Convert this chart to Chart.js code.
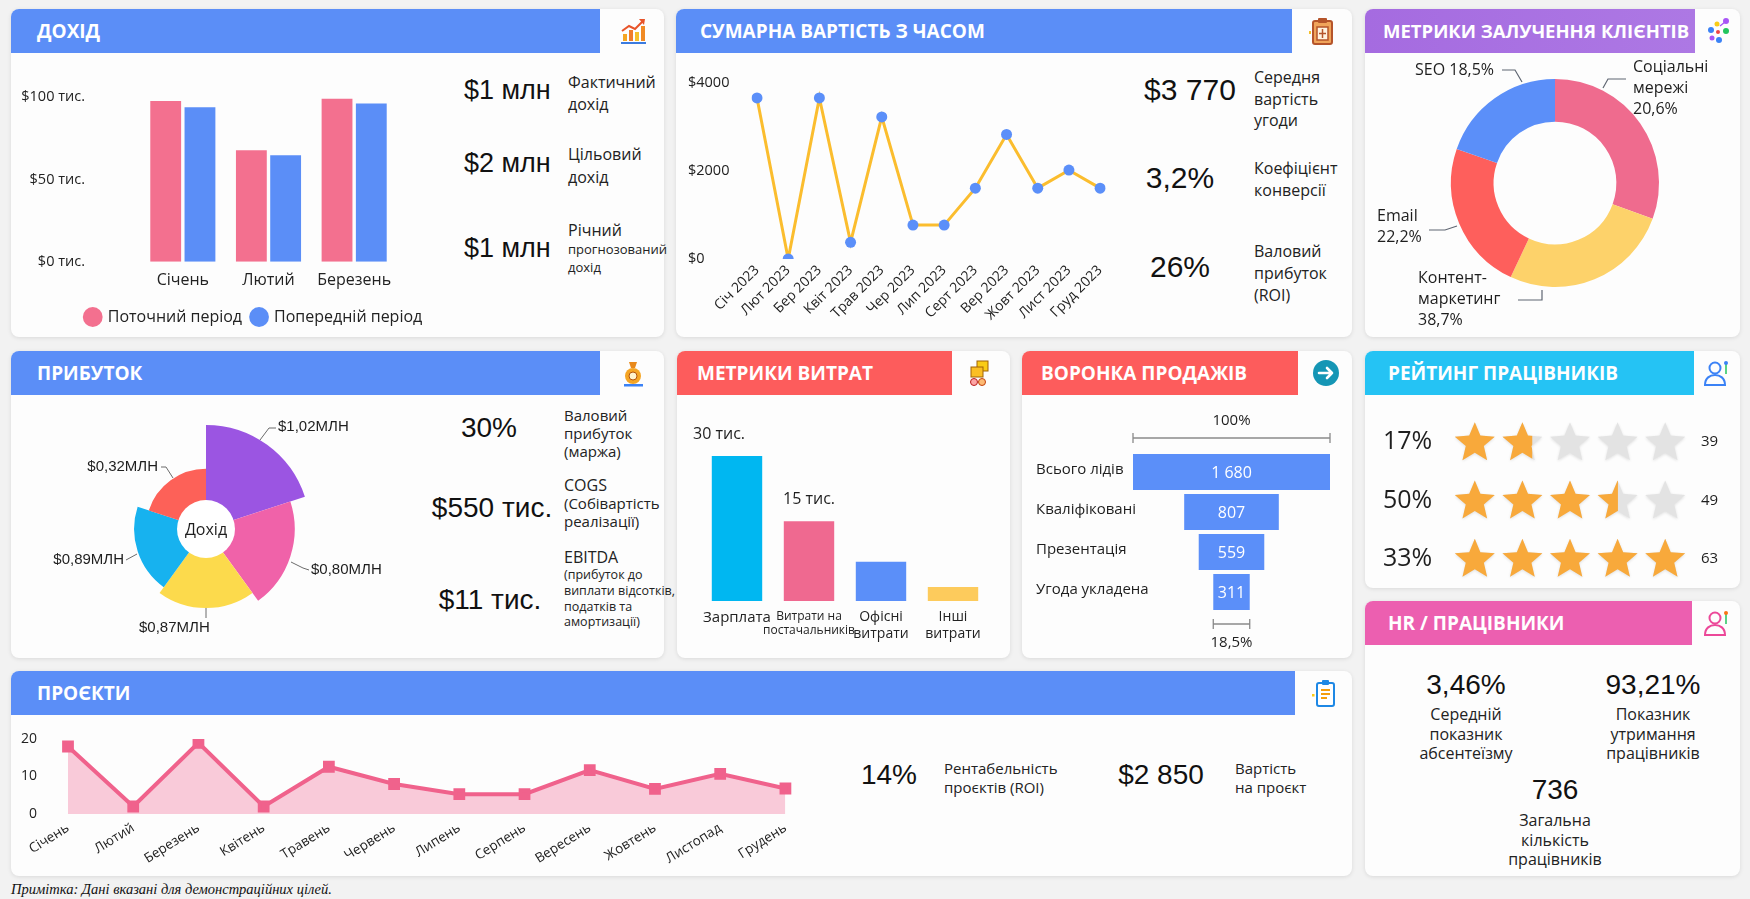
<!DOCTYPE html>
<html lang="uk">
<head>
<meta charset="utf-8">
<script src="https://cdn.jsdelivr.net/npm/chart.js@4.4.1/dist/chart.umd.min.js"></script>
<style>
html,body{margin:0;padding:0;}
body{width:1750px;height:899px;background:#f2f2f2;position:relative;overflow:hidden;font-family:'Open Sans','Noto Sans',sans-serif;color:#1e1e1e;}
.panel{position:absolute;background:#fdfdfd;border-radius:8px;box-shadow:0 1px 4px rgba(0,0,0,0.10);overflow:hidden;}
.hdr{position:absolute;left:0;top:0;height:44px;color:#fff;font-weight:700;font-size:19px;line-height:44px;box-sizing:border-box;white-space:nowrap;}
.icon{position:absolute;top:7px;width:30px;height:30px;}
.abs{position:absolute;white-space:nowrap;}
.big{font-family:'Liberation Sans',Arial,sans-serif;font-size:28px;line-height:32px;color:#111;}
.lbl{font-size:15px;line-height:20px;color:#222;}
.cw{position:absolute;}
.note{position:absolute;left:11px;top:881px;font-family:'Liberation Serif','Times New Roman',serif;font-style:italic;font-size:14.5px;color:#111;}
</style>
</head>
<body>

<!-- Panels -->
<div class="panel" style="left:11px;top:9px;width:653px;height:328px;">
  <div class="hdr" style="width:589px;background:#5b8ef7;padding-left:26px;">ДОХІД</div>
  <svg class="icon" style="left:607px" viewBox="0 0 30 30"><rect x="5" y="18" width="4" height="7" fill="#f5a623"/><rect x="11" y="14" width="4" height="11" fill="#f07c2a"/><rect x="17" y="16" width="4" height="9" fill="#f5c02a"/><rect x="23" y="10" width="4" height="15" fill="#f08a24"/><path d="M4 15 L11 10 L17 13 L25 5" stroke="#e8542a" stroke-width="2" fill="none"/><path d="M21 3 L27 3 L26 9 Z" fill="#e8542a"/><rect x="3" y="26" width="25" height="2" fill="#3b7be0"/></svg>
</div>
<div class="panel" style="left:676px;top:9px;width:676px;height:328px;">
  <div class="hdr" style="width:616px;background:#5b8ef7;padding-left:24px;">СУМАРНА ВАРТІСТЬ З ЧАСОМ</div>
  <svg class="icon" style="left:631px" viewBox="0 0 30 30"><rect x="6" y="5" width="19" height="23" rx="2" fill="#f0a45a" stroke="#b5542a" stroke-width="2"/><rect x="11" y="2" width="9" height="5" rx="1" fill="#b5542a"/><rect x="10" y="11" width="11" height="13" fill="#fff3e0" stroke="#b5542a" stroke-width="1.5"/><path d="M15.5 13v9M12 17.5h7" stroke="#b5542a" stroke-width="1.5"/><rect x="2" y="15" width="2" height="3" fill="#f5c02a"/></svg>
</div>
<div class="panel" style="left:1365px;top:9px;width:375px;height:328px;">
  <div class="hdr" style="width:330px;background:linear-gradient(90deg,#a56be0,#ad78e4);padding-left:18px;font-size:18.5px;">МЕТРИКИ ЗАЛУЧЕННЯ КЛІЄНТІВ</div>
  <svg class="icon" style="left:338px" viewBox="0 0 30 30"><circle cx="8" cy="14" r="3" fill="#3b82f6"/><circle cx="14" cy="8" r="2.5" fill="#facc15"/><circle cx="23" cy="5" r="3" fill="#a855f7"/><circle cx="23" cy="15" r="3" fill="#22c55e"/><circle cx="9" cy="22" r="2.5" fill="#a855f7"/><circle cx="16" cy="24" r="3" fill="#3b82f6"/><circle cx="15" cy="16" r="2" fill="#ef4444"/><path d="M17 10 L22 6" stroke="#a855f7" stroke-width="1.5"/></svg>
</div>
<div class="panel" style="left:11px;top:351px;width:653px;height:307px;">
  <div class="hdr" style="width:589px;background:#5b8ef7;padding-left:26px;">ПРИБУТОК</div>
  <svg class="icon" style="left:607px" viewBox="0 0 30 30"><path d="M11 4 h8 l-2 6 h-4z" fill="#e8891c"/><circle cx="15" cy="18" r="8" fill="#f5a524"/><circle cx="15" cy="18" r="4" fill="#fff2cc" stroke="#b45309"/><rect x="6" y="26" width="19" height="2.5" fill="#3b82f6"/></svg>
</div>
<div class="panel" style="left:677px;top:351px;width:333px;height:307px;">
  <div class="hdr" style="width:275px;background:#fd5c5c;padding-left:20px;">МЕТРИКИ ВИТРАТ</div>
  <svg class="icon" style="left:287px" viewBox="0 0 30 30"><rect x="13" y="3" width="11" height="10" fill="#facc15" stroke="#a16207"/><rect x="7" y="9" width="12" height="10" fill="#fbbf24" stroke="#a16207"/><circle cx="10" cy="24" r="3.5" fill="#fca5a5" stroke="#b91c1c"/><circle cx="18" cy="24" r="3.5" fill="#fdba74" stroke="#c2410c"/></svg>
</div>
<div class="panel" style="left:1022px;top:351px;width:330px;height:307px;">
  <div class="hdr" style="width:276px;background:#fd5c5c;padding-left:19px;">ВОРОНКА ПРОДАЖІВ</div>
  <svg class="icon" style="left:289px" viewBox="0 0 30 30"><circle cx="15" cy="15" r="13" fill="#1596b5"/><path d="M8 15h13M16 10l5 5-5 5" stroke="#fff" stroke-width="2.6" fill="none" stroke-linecap="round" stroke-linejoin="round"/></svg>
</div>
<div class="panel" style="left:1365px;top:351px;width:375px;height:237px;">
  <div class="hdr" style="width:329px;background:#25c3f4;padding-left:23px;">РЕЙТИНГ ПРАЦІВНИКІВ</div>
  <svg class="icon" style="left:337px" viewBox="0 0 30 30"><circle cx="13" cy="10" r="5.5" fill="none" stroke="#3b82f6" stroke-width="2"/><path d="M3 27 c0-7 5-10 10-10 s10 3 10 10 z" fill="none" stroke="#3b82f6" stroke-width="2"/><path d="M24 6 v10" stroke="#22c55e" stroke-width="1.5"/><circle cx="24" cy="5" r="2" fill="#3b82f6"/></svg>
</div>
<div class="panel" style="left:1365px;top:601px;width:375px;height:275px;">
  <div class="hdr" style="width:327px;background:#ec5fb0;padding-left:23px;">HR / ПРАЦІВНИКИ</div>
  <svg class="icon" style="left:337px" viewBox="0 0 30 30"><circle cx="13" cy="10" r="5.5" fill="none" stroke="#ec4899" stroke-width="2"/><path d="M3 27 c0-7 5-10 10-10 s10 3 10 10 z" fill="none" stroke="#ec4899" stroke-width="2"/><path d="M24 6 v10" stroke="#22c55e" stroke-width="1.5"/><circle cx="24" cy="5" r="2" fill="#f97316"/></svg>
</div>
<div class="panel" style="left:11px;top:671px;width:1341px;height:205px;">
  <div class="hdr" style="width:1284px;background:#5b8ef7;padding-left:26px;">ПРОЄКТИ</div>
  <svg class="icon" style="left:1298px" viewBox="0 0 30 30"><rect x="8" y="5" width="17" height="23" rx="2" fill="#fff" stroke="#1e88e5" stroke-width="2"/><rect x="13" y="2" width="7" height="5" rx="1" fill="#1e88e5"/><path d="M12 12h9M12 16h9M12 20h6" stroke="#f59e0b" stroke-width="2"/><rect x="3" y="16" width="2.5" height="2.5" fill="#facc15"/></svg>
</div>

<!-- KPI texts -->
<div class="abs big" style="left:464px;top:74px;font-size:27px;">$1 млн</div>
<div class="abs lbl" style="left:568px;top:71px;font-size:16px;line-height:22px;">Фактичний<br>дохід</div>
<div class="abs big" style="left:464px;top:147px;font-size:27px;">$2 млн</div>
<div class="abs lbl" style="left:568px;top:143px;font-size:16px;line-height:23px;">Цільовий<br>дохід</div>
<div class="abs big" style="left:464px;top:232px;font-size:27px;">$1 млн</div>
<div class="abs lbl" style="left:568px;top:220px;font-size:16px;line-height:20px;">Річний</div>
<div class="abs lbl" style="left:568px;top:240px;font-size:13px;line-height:18px;">прогнозований<br>дохід</div>

<div class="abs big" style="left:1120px;top:74px;width:140px;text-align:center;font-size:30px;">$3 770</div>
<div class="abs big" style="left:1120px;top:162px;width:120px;text-align:center;font-size:30px;">3,2%</div>
<div class="abs big" style="left:1120px;top:251px;width:120px;text-align:center;font-size:30px;">26%</div>
<div class="abs lbl" style="left:1254px;top:67px;font-size:16px;line-height:21.5px;">Середня<br>вартість<br>угоди</div>
<div class="abs lbl" style="left:1254px;top:157px;font-size:16px;line-height:22px;">Коефіцієнт<br>конверсії</div>
<div class="abs lbl" style="left:1254px;top:240px;font-size:16px;line-height:22px;">Валовий<br>прибуток<br>(ROI)</div>

<div class="abs big" style="left:419px;top:412px;width:140px;text-align:center;">30%</div>
<div class="abs big" style="left:412px;top:492px;width:160px;text-align:center;">$550 тис.</div>
<div class="abs big" style="left:410px;top:584px;width:160px;text-align:center;">$11 тис.</div>
<div class="abs lbl" style="left:564px;top:406px;line-height:18px;">Валовий<br>прибуток<br>(маржа)</div>
<div class="abs lbl" style="left:564px;top:476px;line-height:18px;"><span style="font-size:16px">COGS</span><br>(Собівартість<br>реалізації)</div>
<div class="abs lbl" style="left:564px;top:547px;font-size:16px;line-height:20px;">EBITDA</div>
<div class="abs lbl" style="left:564px;top:567px;font-size:12.5px;line-height:15.8px;">(прибуток до<br>виплати відсотків,<br>податків та<br>амортизації)</div>

<div class="abs big" style="left:1406px;top:669px;width:120px;text-align:center;">3,46%</div>
<div class="abs lbl" style="left:1396px;top:705px;width:140px;text-align:center;font-size:16px;line-height:19.5px;">Середній<br>показник<br>абсентеїзму</div>
<div class="abs big" style="left:1593px;top:669px;width:120px;text-align:center;">93,21%</div>
<div class="abs lbl" style="left:1583px;top:705px;width:140px;text-align:center;font-size:16px;line-height:19.5px;">Показник<br>утримання<br>працівників</div>
<div class="abs big" style="left:1495px;top:774px;width:120px;text-align:center;">736</div>
<div class="abs lbl" style="left:1485px;top:811px;width:140px;text-align:center;font-size:16px;line-height:19.5px;">Загальна<br>кількість<br>працівників</div>

<div class="abs big" style="left:839px;top:759px;width:100px;text-align:center;">14%</div>
<div class="abs lbl" style="left:944px;top:759px;line-height:19px;">Рентабельність<br>проєктів (ROI)</div>
<div class="abs big" style="left:1101px;top:759px;width:120px;text-align:center;">$2 850</div>
<div class="abs lbl" style="left:1235px;top:759px;line-height:19px;">Вартість<br>на проєкт</div>

<div class="note">Примітка: Дані вказані для демонстраційних цілей.</div>

<!-- Chart containers -->
<div class="cw" style="left:15px;top:87px;width:470px;height:248px;"><canvas id="cRevenue"></canvas></div>
<div class="cw" style="left:688px;top:73px;width:427px;height:255px;"><canvas id="cValue"></canvas></div>
<div class="cw" style="left:1365px;top:55px;width:375px;height:282px;"><canvas id="cEngage"></canvas></div>
<div class="cw" style="left:30px;top:400px;width:370px;height:250px;"><canvas id="cProfit"></canvas></div>
<div class="cw" style="left:690px;top:400px;width:310px;height:250px;"><canvas id="cCost"></canvas></div>
<div class="cw" style="left:1036px;top:405px;width:304px;height:252px;"><canvas id="cFunnel"></canvas></div>
<div class="cw" style="left:1383px;top:411px;width:346px;height:179px;"><canvas id="cRating"></canvas></div>
<div class="cw" style="left:15px;top:725px;width:785px;height:145px;"><canvas id="cProjects"></canvas></div>

<script>
// ================= DATA =================
const revenueMonths = ['Січень', 'Лютий', 'Березень'];
const revenueCurrent = [97.5, 67.7, 99];
const revenuePrevious = [93.8, 64.6, 96];
const revenueSeriesNames = ['Поточний період', 'Попередній період'];

const valueMonths = ['Січ 2023','Лют 2023','Бер 2023','Квіт 2023','Трав 2023','Чер 2023','Лип 2023','Серт 2023','Вер 2023','Жовт 2023','Лист 2023','Груд 2023'];
const valueAmounts = [3660, 0, 3660, 380, 3230, 770, 770, 1610, 2830, 1610, 2020, 1610];

const engageChannels = ['Соціальні мережі', 'Контент-маркетинг', 'Email', 'SEO'];
const engageShares = [30.6, 26.4, 23.3, 19.7];
const engageLabelPct = ['20,6%', '38,7%', '22,2%', '18,5%'];

const profitValues = [1.02, 0.87, 0.775, 0.705, 0.59];
const profitLabels = ['$1,02МЛН', '$0,80МЛН', '$0,87МЛН', '$0,89МЛН', '$0,32МЛН'];
const profitCenterLabel = 'Дохід';

const costCategories = [['Зарплата'], ['Витрати на', 'постачальників'], ['Офісні', 'витрати'], ['Інші', 'витрати']];
const costValues = [30, 16.5, 8.1, 2.9];
const costValueLabels = ['30 тис.', '15 тис.', '', ''];

const funnelStages = ['Всього лідів', 'Кваліфіковані', 'Презентація', 'Угода укладена'];
const funnelValues = [1680, 807, 559, 311];

const ratingShares = ['17%', '50%', '33%'];
const ratingStars = [1.7, 3.5, 5];
const ratingCounts = ['39', '49', '63'];

const projectMonths = ['Січень','Лютий','Березень','Квітень','Травень','Червень','Липень','Серпень','Вересень','Жовтень','Листопад','Грудень'];
const projectCounts = [18, 2, 19, 2, 12.6, 8, 5.3, 5.3, 11.7, 6.7, 10.7, 6.8];

// ================= COMMON =================
Chart.defaults.font.family = "'Open Sans','Noto Sans',sans-serif";
Chart.defaults.color = '#222';
Chart.defaults.animation = false;
Chart.defaults.plugins.tooltip.enabled = false;
const noGrid = { display: false, drawTicks: false };
const noBorder = { display: false };
const fmtThousands = v => String(v).replace(/\B(?=(\d{3})+(?!\d))/g, ' ');
// fix an axis box size and drop the automatic label overflow padding
const fixY = w => s => { s.width = w; s.paddingTop = 0; s.paddingBottom = 0; };
const fixX = h => s => { s.height = h; s.paddingLeft = 0; s.paddingRight = 0; };

// ================= 1. Revenue bars =================
const legendShift = {
  id: 'legendShift',
  afterLayout(chart, args, opts) { const l = chart.legend; if (l) { l.left += opts.dx; l.right += opts.dx; } }
};
new Chart(document.getElementById('cRevenue'), {
  type: 'bar',
  data: {
    labels: revenueMonths,
    datasets: [
      { label: revenueSeriesNames[0], data: revenueCurrent, backgroundColor: '#f3708f', borderWidth: 0 },
      { label: revenueSeriesNames[1], data: revenuePrevious, backgroundColor: '#5b8ef7', borderWidth: 0 }
    ]
  },
  options: {
    responsive: true, maintainAspectRatio: false,
    layout: { padding: { top: 10, right: 88, left: 0, bottom: 0 } },
    datasets: { bar: { categoryPercentage: 0.8, barPercentage: 0.9 } },
    scales: {
      x: { grid: noGrid, border: noBorder, ticks: { font: { size: 16 }, color: '#222', padding: 9 } },
      y: { min: 0, max: 100, grid: noGrid, border: noBorder,
           ticks: { stepSize: 50, font: { size: 14.5 }, color: '#222', padding: 55, callback: v => '$' + v + ' тис.' },
           afterFit: fixY(125) }
    },
    plugins: {
      legend: { position: 'bottom', labels: { usePointStyle: true, pointStyle: 'circle', boxWidth: 14, boxHeight: 14, padding: 10, font: { size: 16 }, color: '#222' } },
      legendShift: { dx: 48 }
    }
  },
  plugins: [legendShift]
});

// ================= 2. Value over time =================
new Chart(document.getElementById('cValue'), {
  type: 'line',
  data: {
    labels: valueMonths,
    datasets: [{ data: valueAmounts, borderColor: '#fbbd2e', borderWidth: 3, tension: 0,
      pointRadius: 5.5, pointBackgroundColor: '#5b8ff9', pointBorderColor: '#5b8ff9', pointBorderWidth: 0 }]
  },
  options: {
    responsive: true, maintainAspectRatio: false,
    layout: { padding: { top: 10, right: 11, left: 0, bottom: 0 } },
    scales: {
      x: { grid: noGrid, border: noBorder, ticks: { minRotation: 45, maxRotation: 45, font: { size: 14 }, color: '#222', padding: 3 },
           afterFit: s => { s.height = 69; } },
      y: { min: 0, max: 4000, grid: noGrid, border: noBorder,
           ticks: { stepSize: 2000, crossAlign: 'far', font: { size: 14.5 }, color: '#222', callback: v => '$' + v },
           afterFit: fixY(69) }
    },
    plugins: { legend: { display: false } }
  }
});

// ================= 3. Engagement doughnut =================
const engageLabelPlugin = {
  id: 'engageLabels',
  afterDatasetsDraw(chart, args, opts) {
    const arc = chart.getDatasetMeta(0).data[0];
    const cx = arc.x, cy = arc.y, ctx = chart.ctx;
    ctx.save();
    opts.items.forEach((it, i) => {
      ctx.strokeStyle = '#5f6672'; ctx.lineWidth = 1.2;
      ctx.beginPath();
      it.line.forEach((p, k) => k ? ctx.lineTo(cx + p[0], cy + p[1]) : ctx.moveTo(cx + p[0], cy + p[1]));
      ctx.stroke();
      const name = chart.data.labels[i];
      let lines;
      if (it.mode === 'inline') lines = [name + ' ' + engageLabelPct[i]];
      else if (it.mode === 'hyphen') lines = [name.split('-')[0] + '-', name.split('-')[1], engageLabelPct[i]];
      else lines = [...name.split(' '), engageLabelPct[i]];
      ctx.fillStyle = '#1e1e1e'; ctx.font = "16px 'Open Sans'"; ctx.textAlign = 'left'; ctx.textBaseline = 'middle';
      lines.forEach((t, k) => ctx.fillText(t, cx + it.tx, cy + it.ty + k * 21));
    });
    ctx.restore();
  }
};
new Chart(document.getElementById('cEngage'), {
  type: 'doughnut',
  data: { labels: engageChannels, datasets: [{ data: engageShares, backgroundColor: ['#ef6b8e', '#fdd26a', '#fe5f5c', '#5b8ff9'], borderWidth: 0 }] },
  options: {
    responsive: true, maintainAspectRatio: false, cutout: '59%',
    layout: { padding: { left: 86, right: 81, top: 24, bottom: 50 } },
    plugins: {
      legend: { display: false },
      engageLabels: { items: [
        { mode: 'split', tx: 78, ty: -116, line: [[71, -104], [53, -104], [48, -95]] },
        { mode: 'hyphen', tx: -137, ty: 95, line: [[-37, 117], [-13, 117], [-13, 107]] },
        { mode: 'split', tx: -178, ty: 33, line: [[-126, 47], [-110, 47], [-98, 43]] },
        { mode: 'inline', tx: -140, ty: -113, line: [[-53, -113], [-40, -113], [-33, -101]] }
      ] }
    }
  },
  plugins: [engageLabelPlugin]
});

// ================= 4. Profit polar area =================
const profitLabelPlugin = {
  id: 'profitLabels',
  afterDatasetsDraw(chart, args, opts) {
    const r = chart.scales.r, cx = r.xCenter, cy = r.yCenter, ctx = chart.ctx;
    ctx.save();
    ctx.fillStyle = '#ffffff';
    ctx.beginPath(); ctx.arc(cx, cy, opts.hole, 0, Math.PI * 2); ctx.fill();
    ctx.fillStyle = '#1e1e1e'; ctx.font = "16px 'Open Sans'"; ctx.textAlign = 'center'; ctx.textBaseline = 'middle';
    ctx.fillText(profitCenterLabel, cx, cy + 1);
    ctx.font = "15px 'Liberation Sans'";
    opts.items.forEach((it, i) => {
      ctx.strokeStyle = '#6b6b6b'; ctx.lineWidth = 1;
      ctx.beginPath();
      it.line.forEach((p, k) => k ? ctx.lineTo(cx + p[0], cy + p[1]) : ctx.moveTo(cx + p[0], cy + p[1]));
      ctx.stroke();
      ctx.textAlign = it.align; ctx.fillStyle = '#1e1e1e';
      ctx.fillText(profitLabels[i], cx + it.tx, cy + it.ty);
    });
    ctx.restore();
  }
};
new Chart(document.getElementById('cProfit'), {
  type: 'polarArea',
  data: { labels: profitLabels, datasets: [{ data: profitValues, backgroundColor: ['#9b55e2', '#f062a9', '#fcda4c', '#17b2ef', '#fd6158'], borderWidth: 0 }] },
  options: {
    responsive: true, maintainAspectRatio: false,
    layout: { padding: { left: 72, right: 90, top: 25, bottom: 17 } },
    scales: { r: { min: 0, max: 1.02, display: false } },
    plugins: {
      legend: { display: false },
      profitLabels: { hole: 29, items: [
        { align: 'left', tx: 72, ty: -102, line: [[54, -89], [63, -101], [70, -101]] },
        { align: 'left', tx: 105, ty: 41, line: [[85, 33], [97, 39], [103, 41]] },
        { align: 'left', tx: -67, ty: 99, line: [[0, 79], [0, 89]] },
        { align: 'right', tx: -82, ty: 31, line: [[-80, 31], [-69, 25]] },
        { align: 'right', tx: -48, ty: -62, line: [[-45, -62], [-40, -62], [-33, -51]] }
      ] }
    }
  },
  plugins: [profitLabelPlugin]
});

// ================= 5. Cost bars =================
const costLabelPlugin = {
  id: 'costLabels',
  afterDatasetsDraw(chart) {
    const ctx = chart.ctx, meta = chart.getDatasetMeta(0);
    ctx.save();
    ctx.fillStyle = '#1e1e1e'; ctx.font = "16px 'Open Sans'"; ctx.textAlign = 'center'; ctx.textBaseline = 'middle';
    meta.data.forEach((bar, i) => { if (costValueLabels[i]) ctx.fillText(costValueLabels[i], bar.x - (i === 0 ? 18 : 0), bar.y - 22); });
    ctx.restore();
  }
};
new Chart(document.getElementById('cCost'), {
  type: 'bar',
  data: { labels: costCategories, datasets: [{ data: costValues, backgroundColor: ['#00b7f1', '#ef6990', '#5b8ff9', '#fdcb5c'], borderWidth: 0 }] },
  options: {
    responsive: true, maintainAspectRatio: false,
    layout: { padding: { left: 11, right: 11, top: 56, bottom: 0 } },
    datasets: { bar: { categoryPercentage: 1, barPercentage: 0.7 } },
    scales: {
      x: { grid: noGrid, border: noBorder,
           ticks: { padding: 8, color: '#222', autoSkip: false, minRotation: 0, maxRotation: 0,
                    font: ctx => ({ size: ctx.index === 0 ? 15 : (ctx.index === 1 ? 12 : 14), lineHeight: 1.2 }) },
           afterFit: fixX(49) },
      y: { display: false, min: 0, max: 30 }
    },
    plugins: { legend: { display: false } }
  },
  plugins: [costLabelPlugin]
});

// ================= 6. Funnel =================
const funnelPlugin = {
  id: 'funnelDeco',
  afterDatasetsDraw(chart) {
    const ctx = chart.ctx, x = chart.scales.x, y = chart.scales.y, area = chart.chartArea, meta = chart.getDatasetMeta(0);
    ctx.save();
    ctx.textBaseline = 'middle';
    ctx.fillStyle = '#1e1e1e'; ctx.font = "15px 'Open Sans'"; ctx.textAlign = 'left';
    meta.data.forEach((bar, i) => ctx.fillText(chart.data.labels[i], y.left, bar.y - 2));
    ctx.fillStyle = '#fff'; ctx.font = "16px 'Open Sans'"; ctx.textAlign = 'center';
    meta.data.forEach((bar, i) => ctx.fillText(fmtThousands(funnelValues[i]), (bar.x + bar.base) / 2, bar.y + 1));
    const bracket = (v, yy) => {
      const x0 = x.getPixelForValue(-v / 2), x1 = x.getPixelForValue(v / 2);
      ctx.strokeStyle = '#8a8a8a'; ctx.lineWidth = 1.3;
      ctx.beginPath(); ctx.moveTo(x0, yy); ctx.lineTo(x1, yy);
      ctx.moveTo(x0, yy - 5); ctx.lineTo(x0, yy + 5); ctx.moveTo(x1, yy - 5); ctx.lineTo(x1, yy + 5); ctx.stroke();
    };
    const first = funnelValues[0], last = funnelValues[funnelValues.length - 1];
    bracket(first, area.top - 14);
    bracket(last, area.bottom + 12);
    ctx.fillStyle = '#1e1e1e'; ctx.font = "15px 'Open Sans'";
    const mid = x.getPixelForValue(0);
    ctx.fillText('100%', mid, area.top - 31);
    ctx.fillText((last / first * 100).toFixed(1).replace('.', ',') + '%', mid, area.bottom + 31);
    ctx.restore();
  }
};
new Chart(document.getElementById('cFunnel'), {
  type: 'bar',
  data: { labels: funnelStages, datasets: [{ data: funnelValues.map(v => [-v / 2, v / 2]), backgroundColor: '#5b8ff9', borderWidth: 0 }] },
  options: {
    indexAxis: 'y', responsive: true, maintainAspectRatio: false,
    layout: { padding: { left: 0, right: 10, top: 47, bottom: 45 } },
    datasets: { bar: { categoryPercentage: 1, barPercentage: 0.9 } },
    scales: {
      x: { display: false, min: -funnelValues[0] / 2, max: funnelValues[0] / 2 },
      y: { grid: noGrid, border: noBorder, ticks: { display: false }, afterFit: fixY(97) }
    },
    plugins: { legend: { display: false } }
  },
  plugins: [funnelPlugin]
});

// ================= 7. Rating stars =================
function starPath(ctx, cx, cy, R, r) {
  for (let k = 0; k < 10; k++) {
    const a = -Math.PI / 2 + k * Math.PI / 5, rad = k % 2 ? r : R;
    const px = cx + rad * Math.cos(a), py = cy + rad * Math.sin(a);
    k ? ctx.lineTo(px, py) : ctx.moveTo(px, py);
  }
  ctx.closePath();
}
const starPlugin = {
  id: 'starMask',
  beforeDatasetsDraw(chart, args, opts) {
    const ctx = chart.ctx, x = chart.scales.x, y = chart.scales.y;
    ctx.save();
    ctx.beginPath();
    chart.data.labels.forEach((l, i) => {
      for (let j = 0; j < 5; j++) starPath(ctx, x.getPixelForValue(j + 0.5), y.getPixelForValue(i) + 1, opts.R, opts.r);
    });
    ctx.fillStyle = '#e3e3e3';
    ctx.shadowColor = 'rgba(0,0,0,0.12)'; ctx.shadowBlur = 3; ctx.shadowOffsetY = 1;
    ctx.fill();
    ctx.shadowColor = 'transparent';
    ctx.clip();
  },
  afterDatasetsDraw(chart) { chart.ctx.restore(); }
};
new Chart(document.getElementById('cRating'), {
  type: 'bar',
  data: { labels: ratingShares, datasets: [{ data: ratingStars, backgroundColor: '#f8a93b', borderWidth: 0, yAxisID: 'y' }] },
  options: {
    indexAxis: 'y', responsive: true, maintainAspectRatio: false,
    layout: { padding: { left: 0, right: 0, top: 2, bottom: 2 } },
    datasets: { bar: { categoryPercentage: 1, barPercentage: 1 } },
    scales: {
      x: { display: false, min: 0, max: 5 },
      y: { grid: noGrid, border: noBorder, ticks: { crossAlign: 'far', font: { size: 25 }, color: '#1e1e1e', padding: 0 },
           afterFit: fixY(68) },
      y2: { type: 'category', position: 'right', labels: ratingCounts, offset: true, grid: noGrid, border: noBorder,
            ticks: { font: { size: 15 }, color: '#1e1e1e', padding: 12 }, afterFit: fixY(40) }
    },
    plugins: { legend: { display: false }, starMask: { R: 21, r: 9.5 } }
  },
  plugins: [starPlugin]
});

// ================= 8. Projects line =================
new Chart(document.getElementById('cProjects'), {
  type: 'line',
  data: {
    labels: projectMonths,
    datasets: [{ data: projectCounts, fill: 'origin', backgroundColor: 'rgba(246,160,187,0.55)', borderColor: '#f0628c', borderWidth: 4,
      tension: 0, pointStyle: 'rect', pointRadius: 5.5, pointBackgroundColor: '#f0628c', pointBorderColor: '#f0628c' }]
  },
  options: {
    responsive: true, maintainAspectRatio: false,
    layout: { padding: { top: 14, right: 12, left: 0, bottom: 0 } },
    scales: {
      x: { grid: noGrid, border: noBorder, ticks: { minRotation: 32, maxRotation: 32, font: { size: 13.5 }, color: '#222', padding: 6 },
           afterFit: s => { s.height = 56; } },
      y: { min: 0, max: 20, grid: noGrid, border: noBorder, ticks: { stepSize: 10, font: { size: 14 }, color: '#222', padding: 31 },
           afterFit: fixY(53) }
    },
    plugins: { legend: { display: false } }
  }
});
</script>
</body>
</html>
